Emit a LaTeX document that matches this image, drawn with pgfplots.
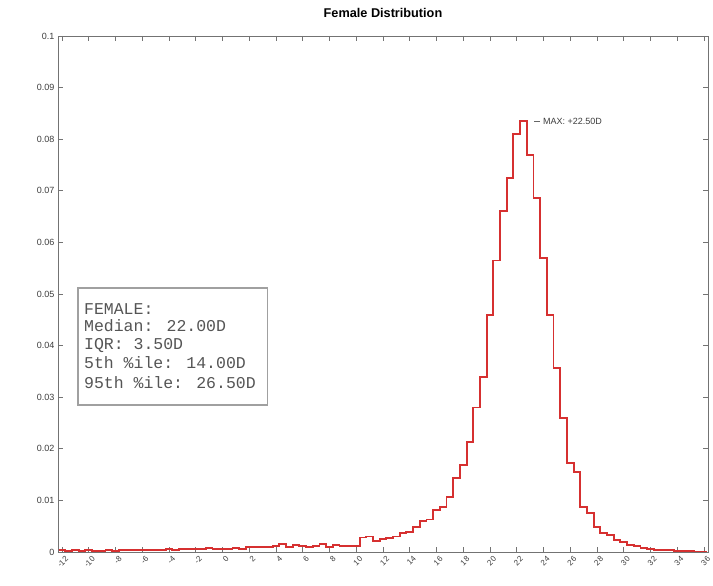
\documentclass[border=0pt]{standalone}
\usepackage{pgfplots}
\pgfplotsset{compat=1.18}
\usepackage{fontspec}
\setmainfont{Liberation Sans}
\newfontfamily\monofont{Liberation Mono}
\definecolor{histred}{RGB}{214,48,48}
\definecolor{boxgray}{RGB}{160,160,160}
\definecolor{txtgray}{RGB}{60,60,60}
\definecolor{monogray}{RGB}{85,85,85}
\begin{document}
\begin{tikzpicture}
\begin{axis}[
  scale only axis, width=650pt, height=516pt,
  xmin=-12.3, xmax=36.3, ymin=0, ymax=0.1,
  xtick={-12,-10,...,36},
  ytick={0,0.01,0.02,0.03,0.04,0.05,0.06,0.07,0.08,0.09,0.1},
  yticklabels={0,0.01,0.02,0.03,0.04,0.05,0.06,0.07,0.08,0.09,0.1},
  scaled y ticks=false,
  /pgf/number format/assume math mode=true,
  tick align=inside, major tick length=5pt,
  tick style={black!55, line width=0.8pt},
  axis line style={black!55, line width=0.8pt},
  ticklabel style={font=\fontsize{9}{10}\selectfont, text=txtgray},
  x tick label style={rotate=45, anchor=north east, inner sep=0.5pt, yshift=-4pt, font=\fontsize{8}{9}\selectfont},
  title={Female Distribution},
  title style={font=\fontsize{12.7}{14}\selectfont\bfseries, yshift=9pt},
]
\addplot[const plot, color=histred, line width=1.9pt, line join=miter] table {
x y
-12.25 0.0003
-11.75 0.0002
-11.25 0.0003
-10.75 0.0002
-10.25 0.0003
-9.75 0.0002
-9.25 0.0002
-8.75 0.0003
-8.25 0.0002
-7.75 0.0003
-7.25 0.0004
-6.75 0.0003
-6.25 0.0003
-5.75 0.0004
-5.25 0.0003
-4.75 0.0004
-4.25 0.0005
-3.75 0.0004
-3.25 0.0005
-2.75 0.0006
-2.25 0.0005
-1.75 0.0006
-1.25 0.0007
-0.75 0.0006
-0.25 0.0005
0.25 0.0006
0.75 0.0007
1.25 0.0006
1.75 0.0009
2.25 0.0010
2.75 0.0009
3.25 0.0010
3.75 0.0011
4.25 0.0016
4.75 0.0010
5.25 0.0013
5.75 0.0011
6.25 0.0010
6.75 0.0011
7.25 0.0015
7.75 0.0010
8.25 0.0013
8.75 0.0011
9.25 0.0012
9.75 0.0011
10.25 0.0028
10.75 0.0030
11.25 0.0022
11.75 0.0025
12.25 0.0027
12.75 0.0030
13.25 0.0037
13.75 0.0038
14.25 0.0048
14.75 0.0060
15.25 0.0063
15.75 0.0081
16.25 0.0087
16.75 0.0107
17.25 0.0143
17.75 0.0169
18.25 0.0213
18.75 0.0280
19.25 0.0340
19.75 0.0460
20.25 0.0565
20.75 0.0660
21.25 0.0725
21.75 0.0810
22.25 0.0835
22.75 0.0770
23.25 0.0686
23.75 0.0570
24.25 0.0460
24.75 0.0357
25.25 0.0260
25.75 0.0172
26.25 0.0155
26.75 0.0087
27.25 0.0076
27.75 0.0048
28.25 0.0037
28.75 0.0033
29.25 0.0023
29.75 0.0020
30.25 0.0014
30.75 0.0012
31.25 0.0008
31.75 0.0005
32.25 0.0004
32.75 0.0003
33.25 0.0003
33.75 0.0002
34.25 0.0002
34.75 0.0002
35.25 0.0001
35.75 0.0001
36.25 0.0001
};
\draw[black!60, line width=0.6pt] (axis cs:23.3,0.0835) -- (axis cs:23.75,0.0835);
\node[anchor=west, inner sep=0pt, font=\fontsize{9}{10}\selectfont, text=txtgray] at (axis cs:23.95,0.0835) {MAX: +22.50D};
\draw[boxgray, line width=1.4pt, fill=white] (axis cs:-10.81,0.0285) rectangle (axis cs:3.37,0.0512);
\node[anchor=base west, inner sep=0pt, font=\monofont\fontsize{16.5}{18}\selectfont, text=monogray] at (axis cs:-10.36,0.04612) {FEMALE:};
\node[anchor=base west, inner sep=0pt, font=\monofont\fontsize{16.5}{18}\selectfont, text=monogray] at (axis cs:-10.36,0.04264) {Median: 22.00D};
\node[anchor=base west, inner sep=0pt, font=\monofont\fontsize{16.5}{18}\selectfont, text=monogray] at (axis cs:-10.36,0.03915) {IQR: 3.50D};
\node[anchor=base west, inner sep=0pt, font=\monofont\fontsize{16.5}{18}\selectfont, text=monogray] at (axis cs:-10.36,0.03547) {5th \%ile: 14.00D};
\node[anchor=base west, inner sep=0pt, font=\monofont\fontsize{16.5}{18}\selectfont, text=monogray] at (axis cs:-10.36,0.03178) {95th \%ile: 26.50D};
\end{axis}
\pgfresetboundingbox
\useasboundingbox ([shift={(-58pt,-34pt)}]current axis.south west) rectangle ([shift={(5pt,36pt)}]current axis.north east);
\end{tikzpicture}
\end{document}
